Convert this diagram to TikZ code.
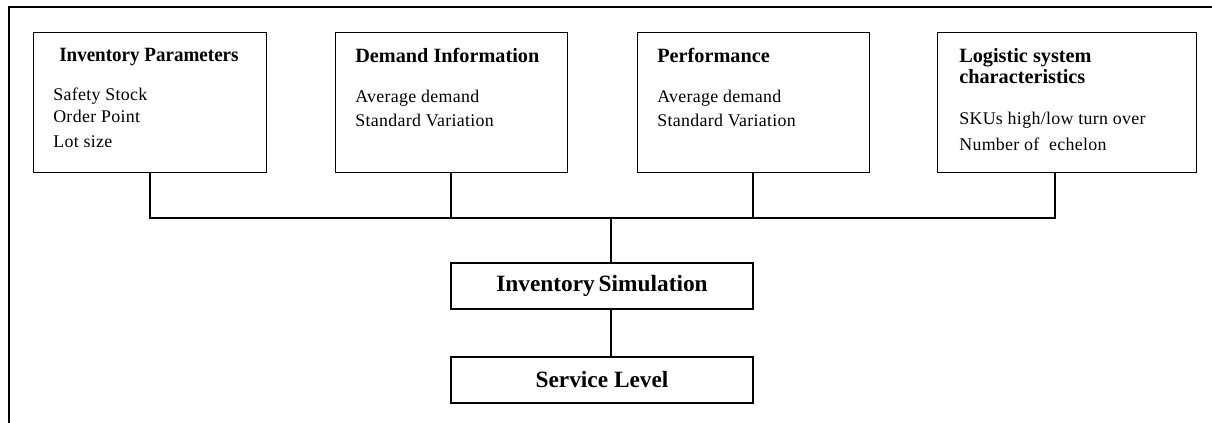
\documentclass[tikz,border=0pt]{standalone}
\usepackage{fontspec}
\setmainfont{Liberation Serif}
\begin{document}
\begin{tikzpicture}[x=0.75pt,y=-0.75pt,
  box/.style={draw,line width=1.1pt,inner sep=0pt,anchor=north west},
  title/.style={anchor=base west,inner sep=0pt,font=\fontsize{15.2pt}{17pt}\selectfont\bfseries},
  body/.style={anchor=base west,inner sep=0pt,font=\fontsize{13.4pt}{16pt}\selectfont\addfontfeature{LetterSpace=1.8}},
  big/.style={font=\fontsize{17.5pt}{20pt}\selectfont\bfseries},
  link/.style={line width=1.1pt}]
\useasboundingbox (0,0) rectangle (1212,423);
% frame
\draw[line width=1pt] (9,7) -- (1212,7);
\draw[line width=1.7pt] (9,6.5) -- (9,423);
% top boxes
\node[box,minimum width=174.75pt,minimum height=105pt] (b1) at (33,32) {};
\node[box,minimum width=174pt,minimum height=105pt] (b2) at (335,32) {};
\node[box,minimum width=174pt,minimum height=105pt] (b3) at (637,32) {};
\node[box,minimum width=194.25pt,minimum height=105pt] (b4) at (937,32) {};
% texts
\node[title,xscale=0.94,transform shape] (t1) at (59,62) {Inventory Parameters};
\node[body] (t1a) at (53,101) {Safety Stock};
\node[body] (t1b) at (53,123) {Order Point};
\node[body] (t1c) at (53,148) {Lot size};
\node[title] (t2) at (355,63) {Demand Information};
\node[body] (t2a) at (355,103) {Average demand};
\node[body] (t2b) at (355,127) {Standard Variation};
\node[title] (t3) at (657,63) {Performance};
\node[body] (t3a) at (657,103) {Average demand};
\node[body] (t3b) at (657,127) {Standard Variation};
\node[title] (t4) at (959,63) {Logistic system};
\node[title] (t4b) at (959,84) {characteristics};
\node[body] (t4c) at (959,125) {SKUs high/low turn over};
\node[body] (t4d) at (959,151) {Number of\ \ echelon};
% lower boxes
\node[draw,line width=1.1pt,minimum width=226.5pt,minimum height=34.5pt,inner sep=0pt,big] (sim) at (602,286) {Inventory\,Simulation};
\node[draw,line width=1.1pt,minimum width=226.5pt,minimum height=34.5pt,inner sep=0pt,big] (sl) at (602,380) {Service Level};
% connectors
\coordinate (c1) at (150,218);
\coordinate (c2) at (451,218);
\coordinate (c3) at (753,218);
\coordinate (c4) at (1055,218);
\coordinate (cm) at (611,218);
\draw[link] (b1.south -| c1) -- (c1) -- (c4) -- (b4.south -| c4);
\draw[link] (b2.south -| c2) -- (c2);
\draw[link] (b3.south -| c3) -- (c3);
\draw[link] (cm) -- (sim.north -| cm);
\draw[link] (sim.south -| cm) -- (sl.north -| cm);
\end{tikzpicture}
\end{document}
